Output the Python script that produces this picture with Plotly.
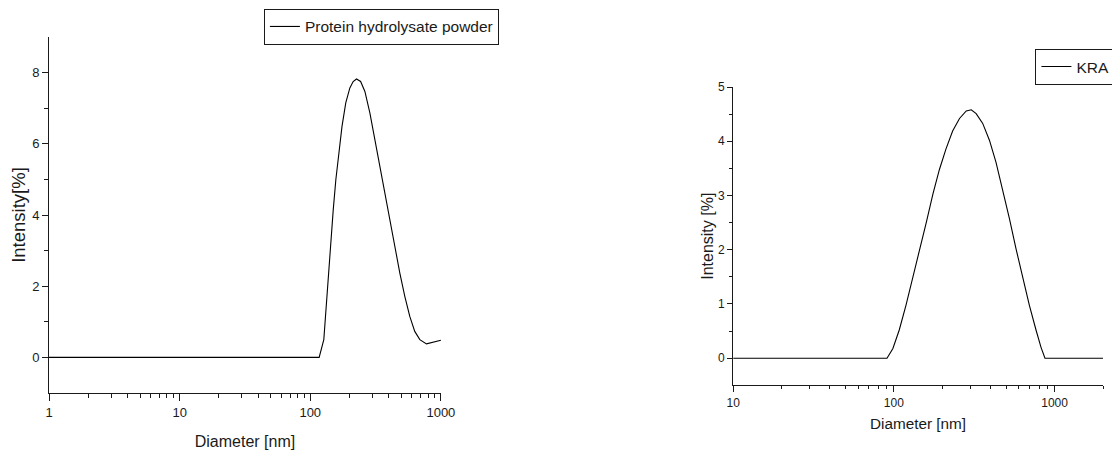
import plotly.graph_objects as go

# ---- data ----
protein_diam = [1, 117, 127, 131.6, 137, 143, 150, 157, 166, 175, 187, 201, 213, 226, 243, 262, 286, 312,
                341, 372, 406, 444, 485, 530, 578, 631, 690, 776, 872, 1000]
protein_int = [0, 0, 0.50, 1.34, 2.28, 3.21, 4.15, 4.99, 5.74, 6.49, 7.15, 7.57, 7.75, 7.82, 7.75, 7.47, 6.87, 6.12,
               5.37, 4.62, 3.87, 3.12, 2.37, 1.71, 1.15, 0.73, 0.50, 0.38, 0.42, 0.48]

kra_diam = [10, 90.6, 98.6, 108, 119, 131, 144.5, 159, 175, 192, 211, 232, 256, 282, 303, 325, 357, 393, 432,
            475, 523, 575, 633, 696, 766, 823, 871, 2000]
kra_int = [0, 0, 0.18, 0.52, 0.98, 1.47, 1.98, 2.50, 3.03, 3.48, 3.86, 4.19, 4.42, 4.56, 4.58, 4.51, 4.33, 4.02, 3.61,
           3.12, 2.58, 2.02, 1.47, 0.98, 0.52, 0.20, 0, 0]

left_xticks = [1, 10, 100, 1000]
left_xticktext = ["1", "10", "100", "1000"]
right_xticks = [10, 100, 1000]
right_xticktext = ["10", "100", "1000"]

FONT = "Liberation Sans, Arial, sans-serif"
INK = "#1a1a1a"

left_minor = [m * 10 ** k for k in range(0, 3) for m in range(2, 10)]
right_minor = [m * 10 ** k for k in range(1, 4) for m in range(2, 10) if m * 10 ** k <= 2000]

fig = go.Figure()
fig.add_trace(go.Scatter(x=protein_diam, y=protein_int, mode="lines", name="Protein hydrolysate powder",
                         line=dict(color="black", width=1.1),
                         xaxis="x", yaxis="y", legend="legend"))
fig.add_trace(go.Scatter(x=kra_diam, y=kra_int, mode="lines", name="KRA",
                         line=dict(color="black", width=1.1),
                         xaxis="x2", yaxis="y2", legend="legend2"))

common = dict(showgrid=False, zeroline=False, showline=True, linecolor=INK, linewidth=1,
              ticks="outside", tickcolor=INK, tickwidth=1, automargin=False, mirror=False)

# the page body adds an 8px offset, so the figure is 8px smaller than the window
fig.update_layout(
    width=1112, height=442,
    margin=dict(l=41, r=16.7, t=29, b=57.3, autoexpand=False),
    paper_bgcolor="white", plot_bgcolor="white",
    font=dict(family=FONT, color=INK),
    xaxis=dict(type="log", domain=[0, 0.3718], range=[0, 3], anchor="y",
               tickvals=left_xticks, ticktext=left_xticktext, ticklen=7,
               tickfont=dict(size=13),
               minor=dict(tickvals=left_minor, ticks="outside", ticklen=4, tickcolor=INK),
               title=dict(text="Diameter [nm]", font=dict(size=16), standoff=17), **common),
    yaxis=dict(domain=[0, 1], range=[-1, 9], anchor="x", tickvals=[0, 2, 4, 6, 8], ticklen=6,
               tickfont=dict(size=13),
               minor=dict(tickvals=[1, 3, 5, 7], ticks="outside", ticklen=4, tickcolor=INK),
               title=dict(text="Intensity[%]", font=dict(size=18.5), standoff=2), **common),
    xaxis2=dict(type="log", domain=[0.6491, 1], range=[1, 3.30103], anchor="y2",
                tickvals=right_xticks, ticktext=right_xticktext, ticklen=6,
                tickfont=dict(size=12),
                minor=dict(tickvals=right_minor, ticks="outside", ticklen=3, tickcolor=INK),
                title=dict(text="Diameter [nm]", font=dict(size=15.3), standoff=9), **common),
    yaxis2=dict(domain=[0.0216, 0.8594], range=[-0.5, 5], anchor="x2", tickvals=[0, 1, 2, 3, 4, 5], ticklen=5,
                tickfont=dict(size=12),
                minor=dict(tickvals=[0.5, 1.5, 2.5, 3.5, 4.5], ticks="outside", ticklen=3, tickcolor=INK),
                title=dict(text="Intensity [%]", font=dict(size=16), standoff=0), **common),
    legend=dict(x=0.2039, y=1.079, xanchor="left", yanchor="top", bgcolor="white",
                bordercolor=INK, borderwidth=1, font=dict(size=15.5, family=FONT),
                itemwidth=30, tracegroupgap=0),
    legend2=dict(x=1.0118, y=0.9663, xanchor="right", yanchor="top", bgcolor="white",
                 bordercolor=INK, borderwidth=1, font=dict(size=15.5, family=FONT),
                 itemwidth=30, tracegroupgap=0),
    showlegend=True,
)

fig.write_html("out.html")
